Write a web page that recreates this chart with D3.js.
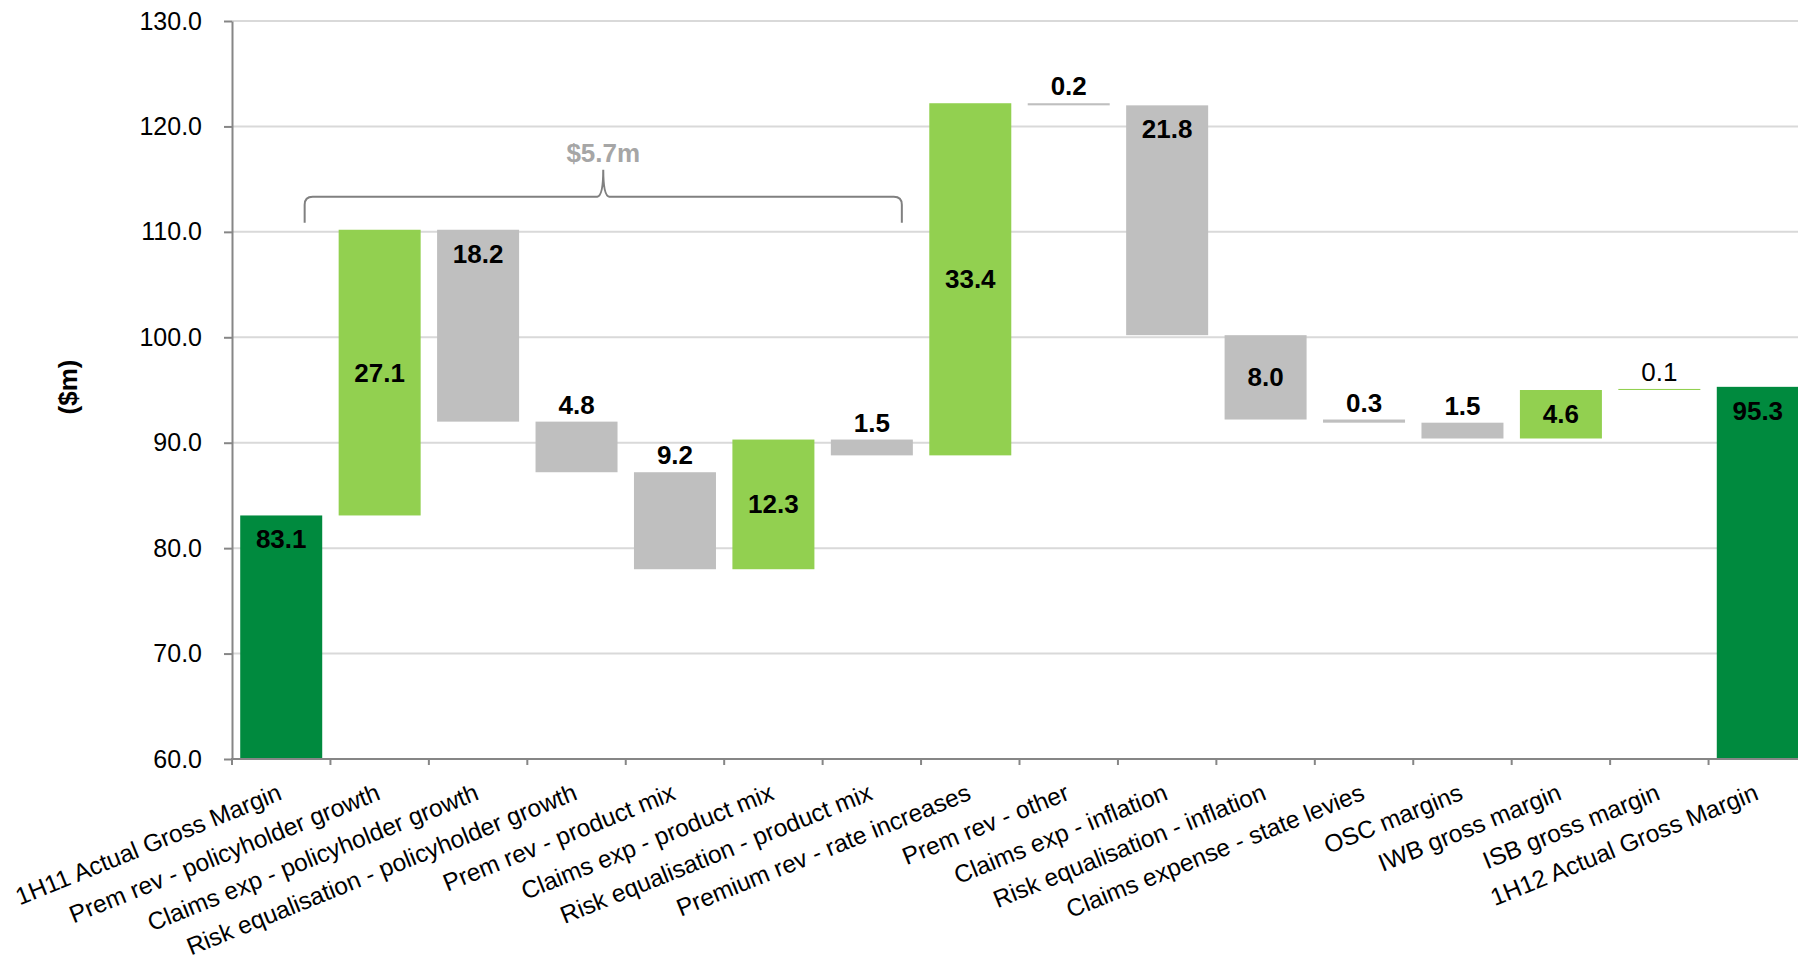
<!DOCTYPE html>
<html>
<head>
<meta charset="utf-8">
<script src="https://cdn.jsdelivr.net/npm/d3@7"></script>
<style>
  html, body { margin: 0; padding: 0; background: #fff; }
  svg { display: block; font-family: Arial, "Liberation Sans", sans-serif; }
</style>
</head>
<body>
<svg id="chart" width="1798" height="959"></svg>
<script>
// Gross margin bridge 1H11 -> 1H12 ($m)
const categories = [
    "1H11  Actual Gross Margin",
    "Prem rev - policyholder growth",
    "Claims exp - policyholder growth",
    "Risk equalisation - policyholder growth",
    "Prem rev - product mix",
    "Claims exp - product mix",
    "Risk equalisation - product mix",
    "Premium rev - rate increases",
    "Prem rev - other",
    "Claims exp - inflation",
    "Risk equalisation - inflation",
    "Claims expense - state levies",
    "OSC margins",
    "IWB gross margin",
    "ISB gross margin",
    "1H12 Actual Gross Margin"
];
const openingMargin = 83.1;
const movements = [27.1, -18.2, -4.8, -9.2, 12.3, -1.5, 33.4, -0.2, -21.8, -8.0, -0.3, -1.5, 4.6, 0.1];
const closingMargin = 95.3;
const yTicks = [60, 70, 80, 90, 100, 110, 120, 130];
const braceFrom = 1, braceTo = 6;   // movements grouped by the brace
const braceLabel = "$5.7m";

// label placement per bar: inside end, middle, above
const labelMode = ["top", "mid", "top", "above", "above", "mid", "above", "mid", "above",
                   "top", "mid", "above", "above", "mid", "light", "top"];

const colors = { total: "#008A3E", up: "#92D050", down: "#BFBFBF" };

// build waterfall steps
const steps = [];
let level = openingMargin;
steps.push({ cat: categories[0], lo: 60, hi: openingMargin, value: openingMargin, type: "total" });
movements.forEach((m, i) => {
    const next = level + m;
    steps.push({
        cat: categories[i + 1],
        lo: Math.min(level, next),
        hi: Math.max(level, next),
        value: Math.abs(m),
        type: m >= 0 ? "up" : "down"
    });
    level = next;
});
steps.push({ cat: categories[categories.length - 1], lo: 60, hi: closingMargin, value: closingMargin, type: "total" });

const svg = d3.select("#chart");
const W = 1798;

const x = d3.scaleBand()
    .domain(categories)
    .range([232, 1807])
    .paddingInner(0.167)
    .paddingOuter(0.0835);

const y = d3.scaleLinear()
    .domain([60, 130])
    .range([759, 21]);

// gridlines
svg.append("g")
    .selectAll("line")
    .data(yTicks.slice(1))
    .enter().append("line")
    .attr("x1", 232)
    .attr("x2", W)
    .attr("y1", d => y(d))
    .attr("y2", d => y(d))
    .attr("stroke", "#D9D9D9")
    .attr("stroke-width", 2);

// bars
svg.append("g")
    .selectAll("rect")
    .data(steps)
    .enter().append("rect")
    .attr("x", d => x(d.cat))
    .attr("width", x.bandwidth())
    .attr("y", d => y(d.hi))
    .attr("height", d => Math.max(1, y(d.lo) - y(d.hi)))
    .attr("fill", d => colors[d.type]);

// y axis
const yAxis = svg.append("g")
    .attr("transform", "translate(232,0)")
    .call(d3.axisLeft(y)
        .tickValues(yTicks)
        .tickFormat(d3.format(".1f"))
        .tickSize(8)
        .tickSizeOuter(0)
        .tickPadding(22));
yAxis.select(".domain").attr("stroke", "#868686").attr("stroke-width", 2);
yAxis.selectAll(".tick line").attr("stroke", "#868686").attr("stroke-width", 2);
yAxis.selectAll(".tick text")
    .attr("font-size", 25)
    .attr("font-family", "Arial, 'Liberation Sans', sans-serif")
    .attr("fill", "#000");

// x axis line + boundary ticks
const half = x.step() * x.paddingInner() / 2;
const bounds = categories.map(c => x(c) - half);
svg.append("line")
    .attr("x1", 231)
    .attr("x2", W)
    .attr("y1", y(60))
    .attr("y2", y(60))
    .attr("stroke", "#868686")
    .attr("stroke-width", 2);
svg.append("g")
    .selectAll("line")
    .data(bounds)
    .enter().append("line")
    .attr("x1", d => d)
    .attr("x2", d => d)
    .attr("y1", y(60))
    .attr("y2", y(60) + 6)
    .attr("stroke", "#868686")
    .attr("stroke-width", 2);

// category labels
svg.append("g")
    .selectAll("text")
    .data(categories)
    .enter().append("text")
    .attr("transform", d => `translate(${x(d) + x.bandwidth() / 2 + 2},799) rotate(-22)`)
    .attr("text-anchor", "end")
    .attr("font-size", 24.5)
    .attr("fill", "#000")
    .text(d => d);

// data labels
const fmt = d3.format(".1f");
svg.append("g")
    .selectAll("text")
    .data(steps)
    .enter().append("text")
    .attr("x", d => x(d.cat) + x.bandwidth() / 2)
    .attr("y", (d, i) => {
        const mode = labelMode[i];
        if (mode === "top") return y(d.hi) + 33;
        if (mode === "mid") return (y(d.hi) + y(d.lo)) / 2 + 9;
        return y(d.hi) - 8;
    })
    .attr("text-anchor", "middle")
    .attr("font-size", 26)
    .attr("font-weight", (d, i) => labelMode[i] === "light" ? "normal" : "bold")
    .attr("fill", "#000")
    .text(d => fmt(d.value));

// y axis title
svg.append("text")
    .attr("transform", "translate(68,387) rotate(-90)")
    .attr("text-anchor", "middle")
    .attr("dominant-baseline", "central")
    .attr("font-size", 26)
    .attr("font-weight", "bold")
    .attr("fill", "#000")
    .text("($m)");

// brace over the policyholder / product mix movements
const bl = x(categories[braceFrom]) - 34;
const br = x(categories[braceTo]) + x.bandwidth() - 11;
const bm = (bl + br) / 2;
const by = y(110) - 35;
const bEnd = y(110) - 9;
const bTop = y(110) - 62;
const brace = d3.path();
brace.moveTo(bl, bEnd);
brace.lineTo(bl, by + 8);
brace.quadraticCurveTo(bl, by, bl + 8, by);
brace.lineTo(bm - 6, by);
brace.quadraticCurveTo(bm, by - 1, bm, bTop);
brace.quadraticCurveTo(bm, by - 1, bm + 6, by);
brace.lineTo(br - 8, by);
brace.quadraticCurveTo(br, by, br, by + 8);
brace.lineTo(br, bEnd);
svg.append("path")
    .attr("d", brace.toString())
    .attr("fill", "none")
    .attr("stroke", "#808080")
    .attr("stroke-width", 2);
svg.append("text")
    .attr("x", bm)
    .attr("y", bTop - 8)
    .attr("text-anchor", "middle")
    .attr("font-size", 26)
    .attr("font-weight", "bold")
    .attr("fill", "#A6A6A6")
    .text(braceLabel);
</script>
</body>
</html>
